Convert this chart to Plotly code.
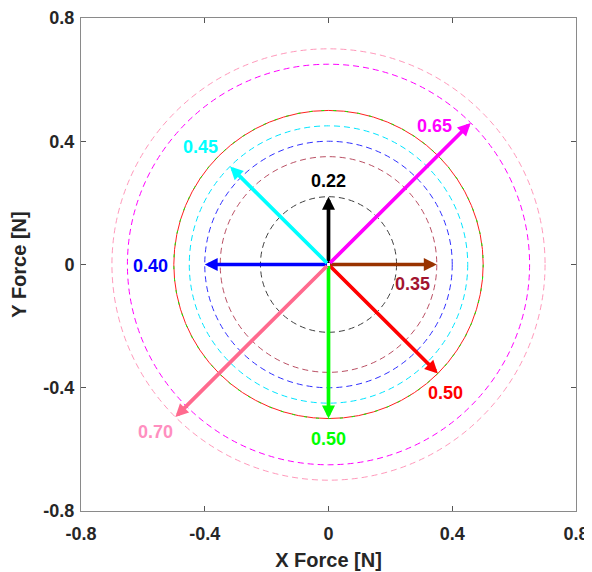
import plotly.graph_objects as go
import numpy as np

# Data
labels = ["0.22", "0.35", "0.40", "0.45", "0.50", "0.50", "0.65", "0.70"]
magnitudes = [0.22, 0.35, 0.40, 0.45, 0.50, 0.50, 0.65, 0.70]
angles_deg = [90, 0, 180, 135, -45, -90, 45, 225]
arrow_colors = ["#000000", "#993300", "#0000FF", "#00FFFF", "#FF0000", "#00FF00", "#FF00FF", "#FF6A8E"]
label_colors = ["#000000", "#A2142F", "#0000FF", "#00FFFF", "#FF0000", "#00FF00", "#FF00FF", "#FF8FC0"]
circle_colors = ["#404040", "rgba(162,20,47,0.75)", "#3030FF", "#00E5FF", "#FF2020", "#00FF00", "#FF00FF", "#FF99BB"]
# label offsets in pixels (styling)
label_shifts = [(0, 16), (-24, -19), (-54, -1), (-30, 19), (8, -20), (0, -20), (-36, -3), (-20, -15)]

tick_vals = [-0.8, -0.4, 0, 0.4, 0.8]
tick_text = ["-0.8", "-0.4", "0", "0.4", "0.8"]

FONT = "Liberation Sans, Arial, sans-serif"

fig = go.Figure()
fig.add_trace(go.Scatter(x=[0], y=[0], mode="markers", marker=dict(opacity=0), showlegend=False, hoverinfo="skip"))

shapes = []
for i, (r, c) in enumerate(zip(magnitudes, circle_colors)):
    if i == 4:
        shapes.append(dict(type="circle", xref="x", yref="y", x0=-r, y0=-r, x1=r, y1=r,
                           line=dict(color=c, width=1), layer="above"))
    elif i == 5:
        shapes.append(dict(type="circle", xref="x", yref="y", x0=-r, y0=-r, x1=r, y1=r,
                           line=dict(color=c, width=1, dash="3px,9px"), layer="above"))
    else:
        shapes.append(dict(type="circle", xref="x", yref="y", x0=-r, y0=-r, x1=r, y1=r,
                           line=dict(color=c, width=1, dash="6px,4px"), layer="above"))

annotations = []
for lab, m, a, ac, lc, (sx, sy) in zip(labels, magnitudes, angles_deg, arrow_colors, label_colors, label_shifts):
    tx = m * np.cos(np.radians(a))
    ty = m * np.sin(np.radians(a))
    annotations.append(dict(x=tx, y=ty, ax=0, ay=0, xref="x", yref="y", axref="x", ayref="y",
                            text="", showarrow=True, arrowhead=2, arrowsize=0.7, arrowwidth=3.7,
                            arrowcolor=ac, standoff=0, startstandoff=0))
    annotations.append(dict(x=tx, y=ty, xref="x", yref="y", text=lab, showarrow=False,
                            xshift=sx, yshift=sy,
                            font=dict(family=FONT, size=18, color=lc, weight="bold")))

axis_common = dict(range=[-0.8, 0.8], tickvals=tick_vals, ticktext=tick_text, ticks="inside", ticklen=5,
                   tickcolor="#555555", showline=True, linecolor="#8a8a8a", linewidth=1, mirror="ticks",
                   showgrid=False, zeroline=False, automargin=False,
                   tickfont=dict(family=FONT, size=18, color="#262626", weight="bold"))

# page body has an 8px default margin, so the figure is offset by 8px
fig.update_layout(
    width=584, height=564,
    margin=dict(l=73, r=16, t=10, b=61),
    paper_bgcolor="white", plot_bgcolor="white",
    shapes=shapes, annotations=annotations, showlegend=False,
    xaxis=dict(**axis_common, ticklabelstandoff=6,
               title=dict(text="X Force [N]", font=dict(family=FONT, size=20, color="#262626", weight="bold"), standoff=10)),
    yaxis=dict(**axis_common, ticklabelstandoff=2,
               title=dict(text="Y Force [N]", font=dict(family=FONT, size=20, color="#262626", weight="bold"), standoff=12)),
)

fig.write_html("out.html")
